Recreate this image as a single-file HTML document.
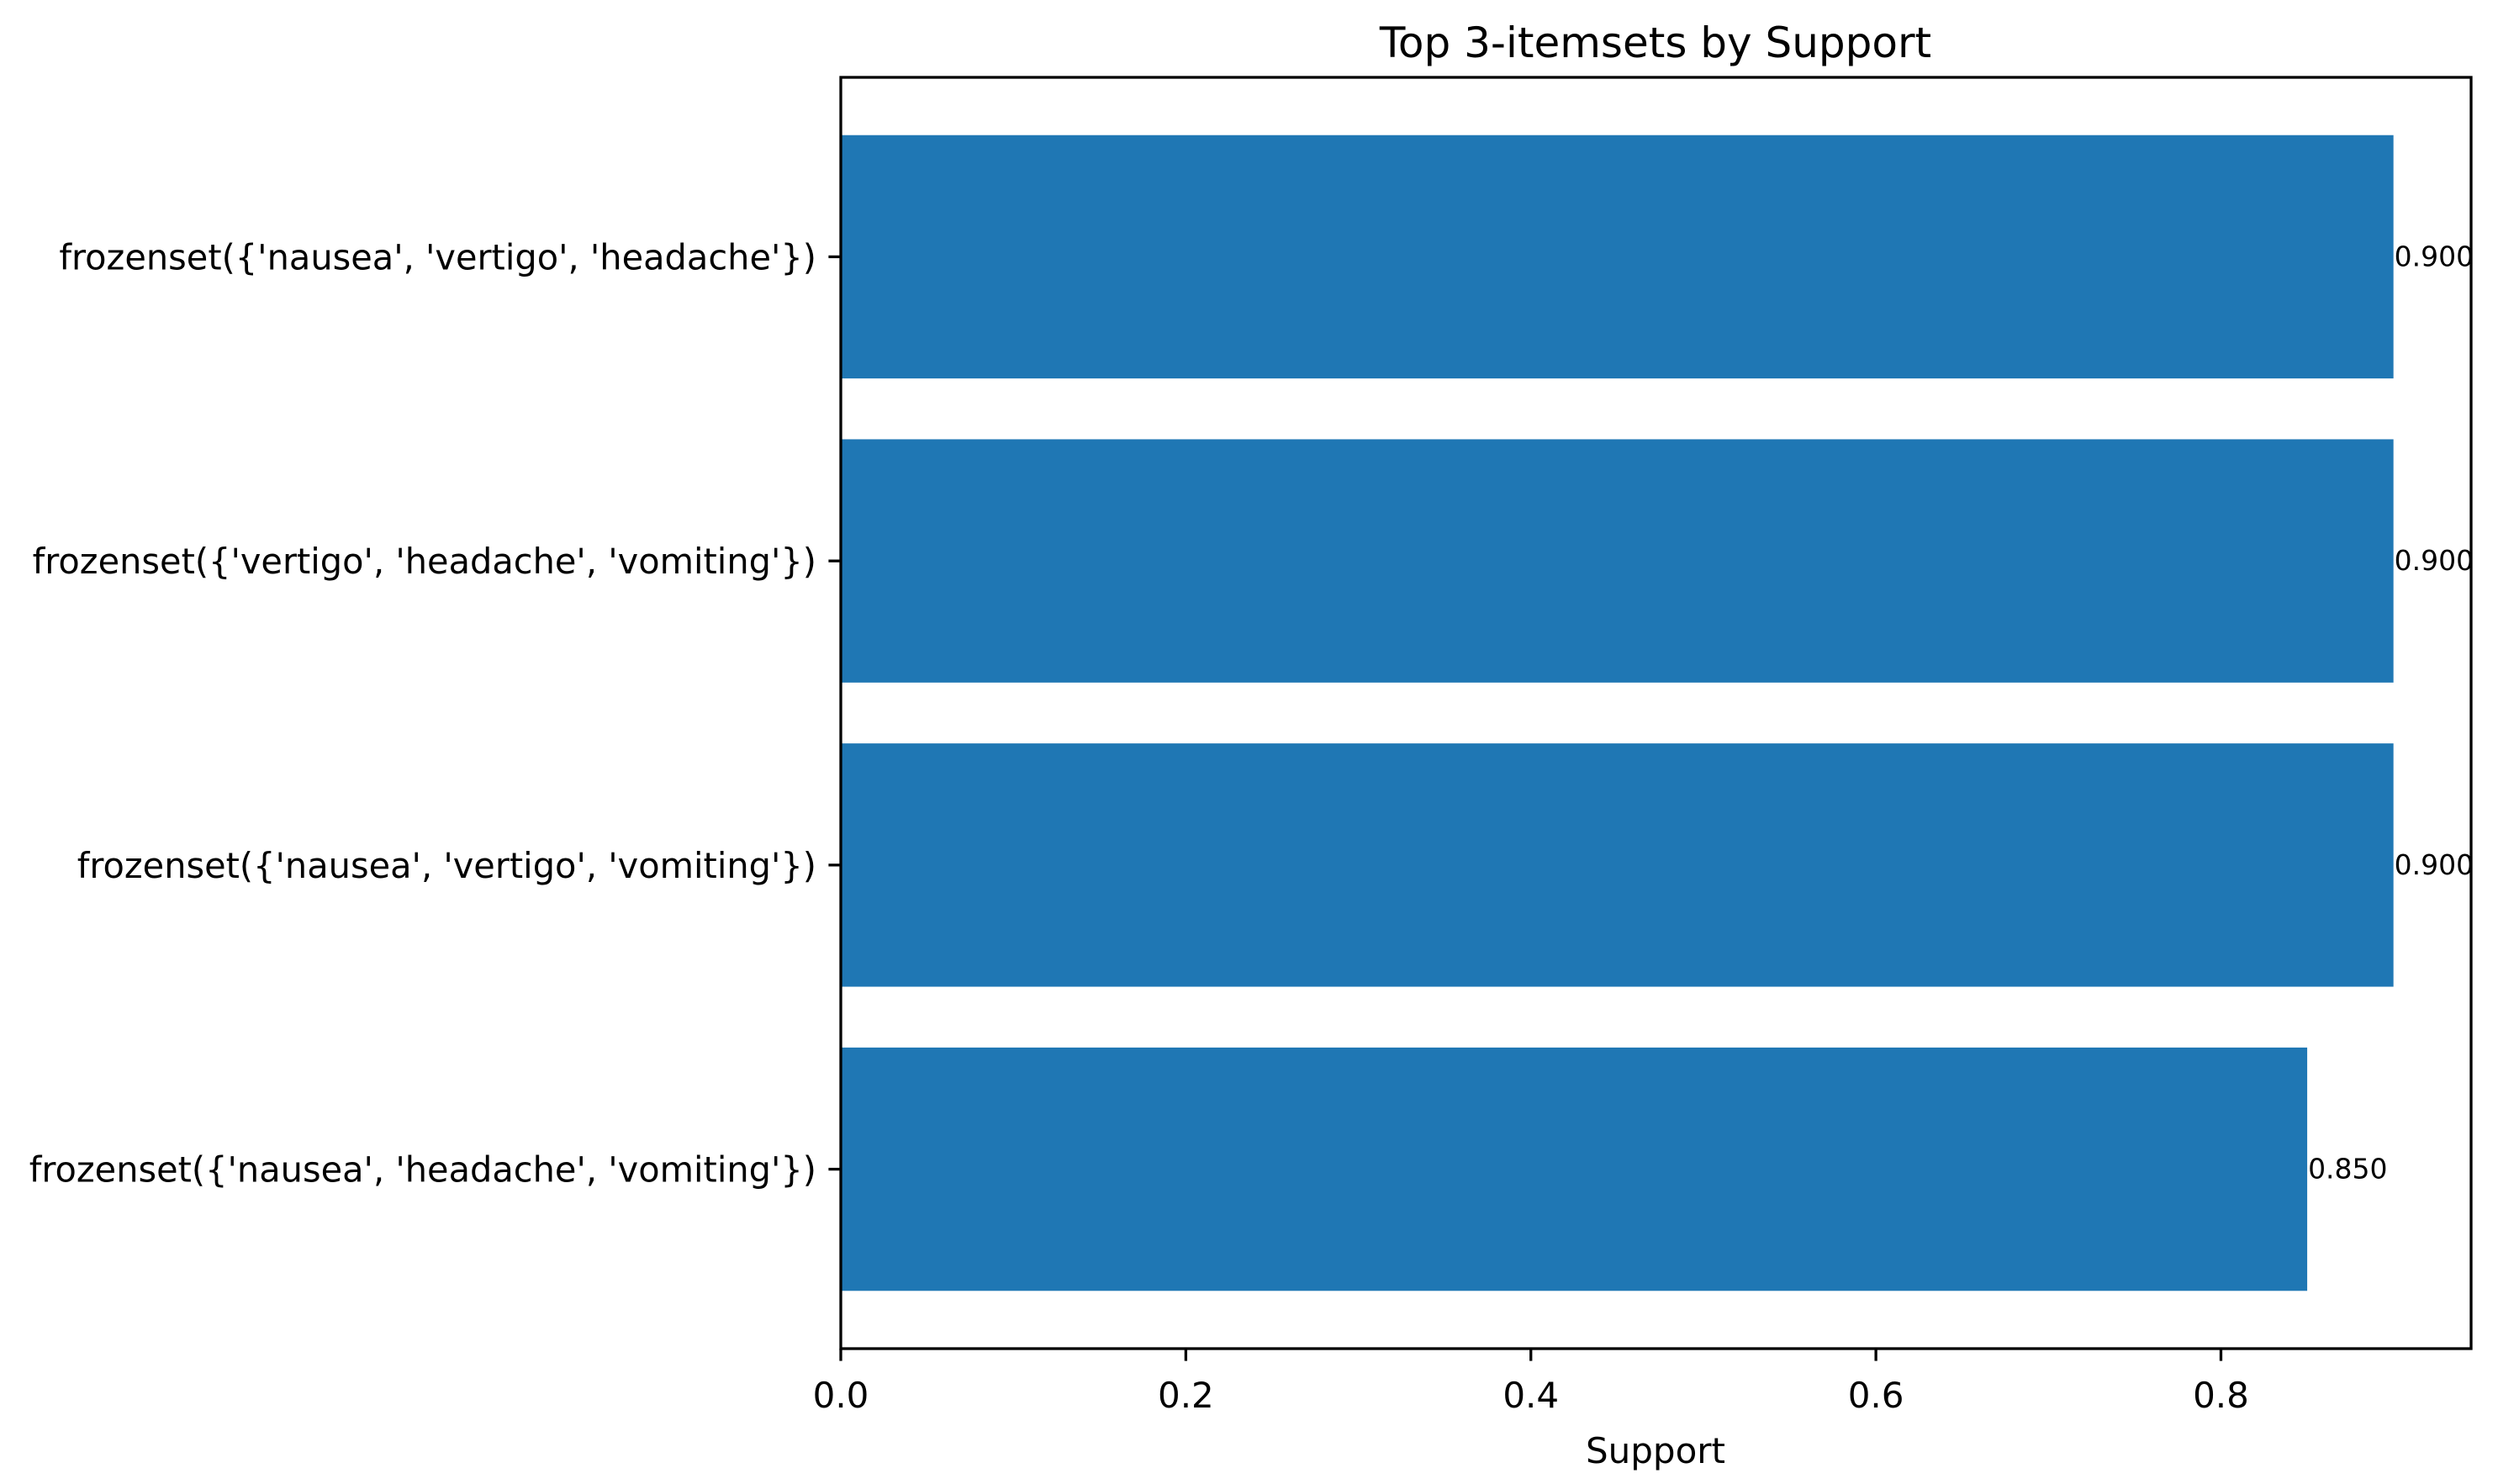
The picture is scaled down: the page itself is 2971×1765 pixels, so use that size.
<!DOCTYPE html>
<html><head><meta charset="utf-8"><style>
html,body{margin:0;padding:0;background:#fff;}
svg{display:block;}
text{font-family:"DejaVu Sans","Liberation Sans",sans-serif;fill:#000;}
</style></head><body>
<svg id="chart" width="2971" height="1765" viewBox="0 0 2971 1765" xmlns="http://www.w3.org/2000/svg">
<rect width="2971" height="1765" fill="#fff"/>
<text x="1969" y="68" font-size="50" text-anchor="middle">Top 3-itemsets by Support</text>
<text x="1969" y="1740" font-size="42" text-anchor="middle">Support</text>
<g id="plot"></g>
</svg>
<script>
const categories = ["frozenset({'nausea', 'headache', 'vomiting'})","frozenset({'nausea', 'vertigo', 'vomiting'})","frozenset({'vertigo', 'headache', 'vomiting'})","frozenset({'nausea', 'vertigo', 'headache'})"];
const supportValues = [0.85, 0.9, 0.9, 0.9];
const valueLabels = ["0.850","0.900","0.900","0.900"];
const xTicks = [0, 0.2, 0.4, 0.6, 0.8];
const xTickLabels = ["0.0","0.2","0.4","0.6","0.8"];

const L=1000, R=2939, T=92, B=1604;
const xMax = Math.max(...supportValues)*1.05;
const yMin=-0.59, yMax=categories.length-1+0.59;
const xs = v => L + v/xMax*(R-L);
const ys = v => T + (yMax-v)/(yMax-yMin)*(B-T);
const NS="http://www.w3.org/2000/svg";
const g=document.getElementById('plot');
function mk(tag,attrs){const e=document.createElementNS(NS,tag);for(const k in attrs)e.setAttribute(k,attrs[k]);g.appendChild(e);return e;}

categories.forEach((c,i)=>{
  const v=supportValues[i];
  const r=mk('rect',{x:xs(0),y:ys(i+0.4),width:xs(v)-xs(0),height:ys(i-0.4)-ys(i+0.4),fill:'#1f77b4'});
  
  
  const vl=mk('text',{x:xs(v)+1,y:ys(i)+11,'font-size':33});
  vl.textContent=valueLabels[i];
  
  
  const tk=mk('line',{x1:L-14.6,x2:L,y1:ys(i),y2:ys(i),stroke:'#000','stroke-width':3.3});
  
  
  const tl=mk('text',{x:L-29,y:ys(i)+15,'font-size':41.5,'text-anchor':'end'});
  tl.textContent=c;
  
  
});
xTicks.forEach((t,i)=>{
  const tk=mk('line',{x1:xs(t),x2:xs(t),y1:B,y2:B+14.6,stroke:'#000','stroke-width':3.3});
  
  
  const tl=mk('text',{x:xs(t),y:B+70,'font-size':42,'text-anchor':'middle'});
  tl.textContent=xTickLabels[i];
  
  
});
const frame=mk('rect',{x:L,y:T,width:R-L,height:B-T,fill:'none',stroke:'#000','stroke-width':3.3});


</script>
</body></html>
